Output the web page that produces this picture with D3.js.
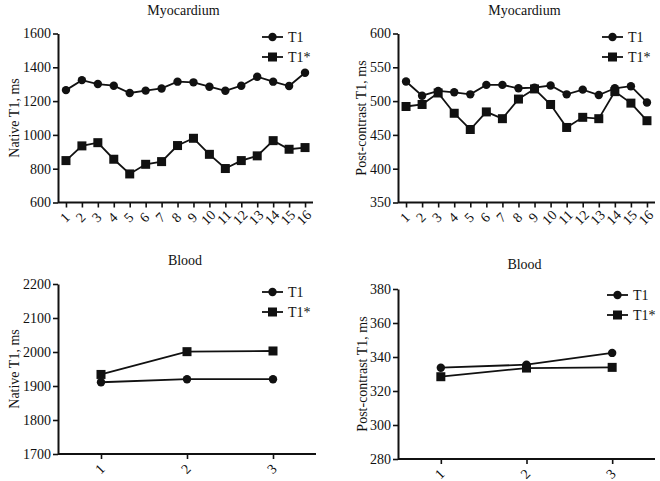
<!DOCTYPE html>
<html><head><meta charset="utf-8">
<script src="https://cdn.jsdelivr.net/npm/d3@7"></script>
<style>body{margin:0;background:#fff}svg{display:block}text{font-family:"Liberation Serif","Times New Roman",serif;fill:#111}</style>
</head><body><div id="c"></div>
<script>
const segments = ["1","2","3","4","5","6","7","8","9","10","11","12","13","14","15","16"];
const slices = ["1","2","3"];
const seriesNames = ["T1","T1*"];
const myoNativeT1 = [1265,1324,1301,1291,1248,1262,1275,1315,1311,1285,1261,1291,1344,1315,1289,1368];
const myoNativeT1s = [848,935,954,856,769,826,842,937,980,885,801,848,876,966,915,925];
const myoPostT1 = [529,508,515,513,510,524,524,519,520,523,510,517,509,519,522,498];
const myoPostT1s = [492,495,512,482,458,484,474,503,518,495,461,476,474,514,497,471];
const bloodNativeT1 = [1911,1920,1920];
const bloodNativeT1s = [1934,2001,2003];
const bloodPostT1 = [333.7,335.5,342.4];
const bloodPostT1s = [328.4,333.5,333.9];
const yTicksNativeMyo = [600,800,1000,1200,1400,1600];
const yTicksPostMyo = [350,400,450,500,550,600];
const yTicksNativeBlood = [1700,1800,1900,2000,2100,2200];
const yTicksPostBlood = [280,300,320,340,360,380];

const W=660,H=481;
const svg=d3.select("#c").append("svg").attr("width",W).attr("height",H);

const panels=[
 {title:"Myocardium",ylab:"Native T1, ms",cats:segments,s1:myoNativeT1,s2:myoNativeT1s,ticks:yTicksNativeMyo,
  x0:58,x1:313,top:33.5,bot:202.5,titleY:15,ylabX:14,legX:262,legY:37},
 {title:"Myocardium",ylab:"Post-contrast T1, ms",cats:segments,s1:myoPostT1,s2:myoPostT1s,ticks:yTicksPostMyo,
  x0:398,x1:655,top:33.5,bot:202.5,titleY:15,ylabX:361,legX:602,legY:37},
 {title:"Blood",ylab:"Native T1, ms",cats:slices,s1:bloodNativeT1,s2:bloodNativeT1s,ticks:yTicksNativeBlood,
  x0:58,x1:316,top:284,bot:454,titleY:265,ylabX:14,legX:262,legY:292},
 {title:"Blood",ylab:"Post-contrast T1, ms",cats:slices,s1:bloodPostT1,s2:bloodPostT1s,ticks:yTicksPostBlood,
  x0:398,x1:655,top:289,bot:459,titleY:269,ylabX:362,legX:607,legY:295}
];

panels.forEach(p=>{
  const g=svg.append("g");
  const x=d3.scalePoint().domain(p.cats).range([p.x0,p.x1]).padding(0.5);
  const y=d3.scaleLinear().domain([p.ticks[0],p.ticks[p.ticks.length-1]]).range([p.bot,p.top]);
  g.append("text").attr("x",(p.x0+p.x1)/2-2).attr("y",p.titleY).attr("text-anchor","middle").style("font-size","14px").text(p.title);
  const ya=g.append("g").attr("transform",`translate(${p.x0},0)`)
    .call(d3.axisLeft(y).tickValues(p.ticks).tickSize(5).tickSizeOuter(0).tickPadding(2).tickFormat(d3.format("d")));
  ya.select(".domain").attr("stroke","#111").attr("stroke-width",2);
  ya.selectAll(".tick line").attr("stroke","#111").attr("stroke-width",1.6);
  ya.selectAll(".tick text").style("font-size","14px").style("font-family","Liberation Serif").attr("fill","#111");
  const xa=g.append("g").attr("transform",`translate(0,${p.bot})`)
    .call(d3.axisBottom(x).tickSize(5).tickSizeOuter(0));
  xa.select(".domain").attr("d",`M${p.x0},0H${p.x1}`).attr("stroke","#111").attr("stroke-width",2);
  xa.selectAll(".tick line").attr("stroke","#111").attr("stroke-width",1.6);
  xa.selectAll(".tick text").attr("y",0).attr("dy",null)
    .attr("text-anchor","middle").attr("dominant-baseline","central")
    .attr("transform","translate(-1.5,15) rotate(-45)")
    .style("font-size","14px").style("font-family","Liberation Serif").attr("fill","#111");
  const cy=(p.top+p.bot)/2;
  g.append("text").attr("transform",`translate(${p.ylabX},${cy}) rotate(-90)`).attr("text-anchor","middle")
    .attr("dominant-baseline","central").style("font-size","14px").text(p.ylab);
  const line=d3.line().x((d,i)=>x(p.cats[i])).y(d=>y(d));
  [p.s1,p.s2].forEach((s,k)=>{
    g.append("path").datum(s).attr("d",line).attr("fill","none").attr("stroke","#111").attr("stroke-width",1.8);
    if(k===0){
      g.selectAll(null).data(s).enter().append("circle").attr("cx",(d,i)=>x(p.cats[i])).attr("cy",d=>y(d)).attr("r",4.2).attr("fill","#111");
    } else {
      g.selectAll(null).data(s).enter().append("rect").attr("x",(d,i)=>x(p.cats[i])-4.5).attr("y",d=>y(d)-4.5).attr("width",9).attr("height",9).attr("fill","#111");
    }
  });
  seriesNames.forEach((n,k)=>{
    const ly=p.legY+k*20;
    g.append("line").attr("x1",p.legX).attr("x2",p.legX+21).attr("y1",ly).attr("y2",ly).attr("stroke","#111").attr("stroke-width",1.8);
    if(k===0) g.append("circle").attr("cx",p.legX+10.5).attr("cy",ly).attr("r",4.2).attr("fill","#111");
    else g.append("rect").attr("x",p.legX+6).attr("y",ly-4.5).attr("width",9).attr("height",9).attr("fill","#111");
    g.append("text").attr("x",p.legX+26).attr("y",ly).attr("dominant-baseline","central").style("font-size","14px").text(n);
  });
});
</script></body></html>
